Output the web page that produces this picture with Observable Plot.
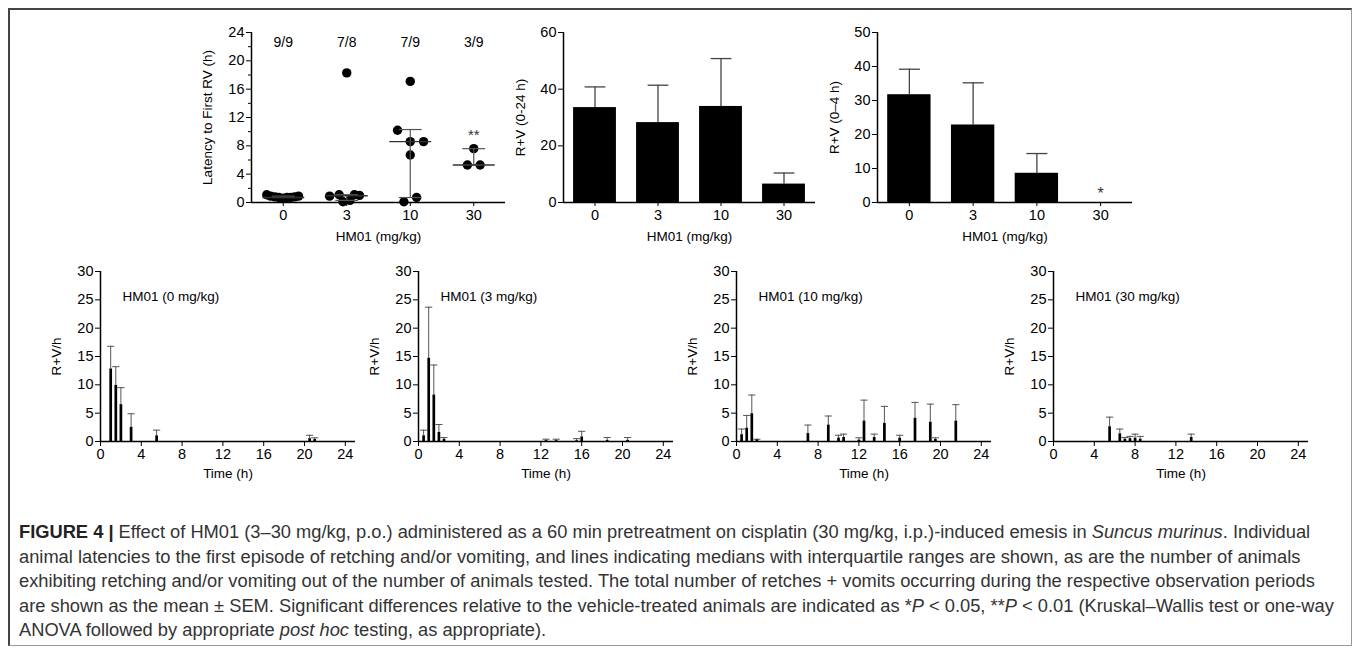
<!DOCTYPE html>
<html><head><meta charset="utf-8">
<script src="https://cdn.jsdelivr.net/npm/d3@7"></script>
<script src="https://cdn.jsdelivr.net/npm/@observablehq/plot@0.6"></script>
<style>
body{margin:0;background:#fff;width:1357px;height:652px;overflow:hidden;position:relative;font-family:"Liberation Sans",Arial,sans-serif;}
#frame{position:absolute;left:8px;top:8px;width:1344px;height:638px;border:1px solid #999;border-left:2px solid #444;border-top:2px solid #444;box-sizing:border-box;}
.panel{position:absolute;}
.panel g[aria-label$="tick label"], .panel g[aria-label$="tick label"] text{font-size:14.5px !important;font-family:"Liberation Sans",Arial,sans-serif !important;}
#caption{position:absolute;left:19px;top:520px;font-size:18.3px;line-height:24.5px;color:#333;white-space:nowrap;}
#caption b{color:#222;}
</style></head><body>
<div id="frame"></div>
<div id="charts"></div>
<div id="caption">
<div><b>FIGURE 4 |</b> Effect of HM01 (3–30 mg/kg, p.o.) administered as a 60 min pretreatment on cisplatin (30 mg/kg, i.p.)-induced emesis in <i>Suncus murinus</i>. Individual</div>
<div>animal latencies to the first episode of retching and/or vomiting, and lines indicating medians with interquartile ranges are shown, as are the number of animals</div>
<div>exhibiting retching and/or vomiting out of the number of animals tested. The total number of retches + vomits occurring during the respective observation periods</div>
<div>are shown as the mean ± SEM. Significant differences relative to the vehicle-treated animals are indicated as *<i>P</i> &lt; 0.05, **<i>P</i> &lt; 0.01 (Kruskal–Wallis test or one-way</div>
<div>ANOVA followed by appropriate <i>post hoc</i> testing, as appropriate).</div>
</div>
<script>
// ---------- DATA ----------
const doses = ["0", "3", "10", "30"];
const countLabels = ["9/9", "7/8", "7/9", "3/9"];

// Individual latencies (h); group index, horizontal scatter offset, value
const latGroup  = [0,0,0,0,0,0,0,0,0, 1,1,1,1,1,1,1, 2,2,2,2,2,2,2, 3,3,3];
const latJitter = [-0.26,-0.2,-0.13,-0.07,0,0.06,0.12,0.18,0.24, -0.27,-0.12,-0.06,0,0.05,0.12,0.2, -0.2,0,0,0.21,0,0.1,-0.1, 0,-0.1,0.1];
const latValue  = [1.1,0.9,0.8,0.7,0.6,0.7,0.7,0.8,0.9, 0.9,1.1,0.1,18.3,0.3,1.1,1.0, 10.2,17.1,8.6,8.6,6.7,0.7,0.1, 7.6,5.3,5.3];
const latMedian = [0.7, 0.95, 8.6, 5.3];
const latQ1     = [0.7, 0.3, 0.7, 5.3];
const latQ3     = [0.9, 1.1, 10.3, 7.6];
const latSig    = ["", "", "", "**"];

// Total R+V 0-24 h (mean, mean+SEM)
const rv24Mean = [33.5, 28.2, 33.9, 6.5];
const rv24Err  = [40.8, 41.4, 50.8, 10.4];
// Total R+V 0-4 h
const rv4Mean = [31.7, 22.8, 8.6, 0];
const rv4Err  = [39.2, 35.2, 14.4, 0];
const rv4Sig  = ["", "", "", "*"];

// Time course R+V per hour (time, mean, mean+SEM)
const tcLabels = ["HM01 (0 mg/kg)", "HM01 (3 mg/kg)", "HM01 (10 mg/kg)", "HM01 (30 mg/kg)"];
const t0 = [1, 1.5, 2, 3, 5.5, 20.5, 21];
const m0 = [12.8, 9.9, 6.5, 2.5, 1.0, 0.5, 0.35];
const e0 = [16.8, 13.2, 9.5, 4.9, 2.0, 1.1, 0.65];
const t3 = [0.5, 1, 1.5, 2, 2.5, 12.5, 13.5, 15.5, 16, 18.5, 20.5];
const m3 = [1.0, 14.7, 8.2, 1.6, 0.4, 0.15, 0.15, 0.15, 0.8, 0.2, 0.2];
const e3 = [2.0, 23.7, 13.5, 3.0, 0.7, 0.4, 0.4, 0.5, 1.8, 0.7, 0.7];
const t10 = [0.5, 1, 1.5, 2, 7, 9, 10, 10.5, 12, 12.5, 13.5, 14.5, 16, 17.5, 19, 19.5, 21.5];
const m10 = [1.2, 2.35, 4.9, 0.3, 1.4, 2.9, 0.6, 0.7, 0.25, 3.6, 0.7, 3.2, 0.6, 4.1, 3.4, 0.35, 3.6];
const e10 = [2.2, 4.6, 8.2, 0.4, 2.9, 4.5, 1.1, 1.3, 0.65, 7.3, 1.3, 6.2, 1.1, 6.9, 6.6, 0.65, 6.5];
const t30 = [5.5, 6.5, 7, 7.5, 8, 8.5, 13.5];
const m30 = [2.6, 1.35, 0.4, 0.5, 0.6, 0.4, 0.7];
const e30 = [4.3, 2.2, 0.7, 0.9, 1.3, 0.9, 1.3];

// ---------- HELPERS ----------
const FONT = '"Liberation Sans", Arial, Helvetica, sans-serif';
const baseStyle = {fontFamily: FONT, fontSize: "14px", color: "black", background: "transparent", overflow: "visible"};
const LABEL = 13.5;
const TICK = 14.5;
const charts = document.getElementById("charts");
function place(svg, left, top) {
  const d = document.createElement("div");
  d.className = "panel";
  d.style.left = left + "px";
  d.style.top = top + "px";
  d.appendChild(svg);
  charts.appendChild(d);
}
const idx = [0, 1, 2, 3];

// ---------- Panel A: latency scatter ----------
{
  const pts = latValue.map((v, k) => ({g: latGroup[k], j: latJitter[k], v}));
  const summ = idx.map(i => ({i, med: latMedian[i], q1: latQ1[i], q3: latQ3[i], n: countLabels[i], sig: latSig[i]}));
  const svg = Plot.plot({
    width: 370, height: 250, marginLeft: 101, marginRight: 15, marginTop: 22, marginBottom: 58,
    style: baseStyle,
    x: {domain: [-0.5, 3.5]},
    y: {domain: [0, 24]},
    marks: [
      Plot.axisY({ticks: [0, 4, 8, 12, 16, 20, 24], tickSize: 5, tickPadding: 2, label: null, fontSize: TICK}),
      Plot.axisY({ticks: [2, 6, 10, 14, 18, 22], tickSize: 3, tickFormat: () => "", label: null}),
      Plot.axisX({ticks: idx, tickFormat: i => doses[i], tickSize: 4, tickPadding: 3, label: null, fontSize: TICK}),
      Plot.dot(pts, {x: d => d.g + d.j, y: "v", r: 4.7, fill: "black", stroke: "none"}),
      Plot.ruleX(summ, {x: "i", y1: "q1", y2: "q3", stroke: "#555", strokeWidth: 1.2}),
      Plot.link(summ, {x1: d => d.i - 0.18, x2: d => d.i + 0.18, y1: "q1", y2: "q1", stroke: "#555", strokeWidth: 1.2}),
      Plot.link(summ, {x1: d => d.i - 0.18, x2: d => d.i + 0.18, y1: "q3", y2: "q3", stroke: "#555", strokeWidth: 1.2}),
      Plot.link(summ, {x1: d => d.i - 0.33, x2: d => d.i + 0.33, y1: "med", y2: "med", stroke: "#333", strokeWidth: 1.4}),
      Plot.text(summ, {x: "i", frameAnchor: "top", dy: 5, text: "n", fontSize: 14}),
      Plot.text(summ, {x: "i", y: "q3", dy: -13, text: "sig", fontSize: 15, fill: "#333"}),
      Plot.ruleY([0], {stroke: "black", strokeWidth: 1.5}),
      Plot.ruleX([-0.5], {stroke: "black", strokeWidth: 1.5}),
      Plot.text(["Latency to First RV (h)"], {text: d => d, frameAnchor: "left", textAnchor: "middle", rotate: -90, dx: -44, fontSize: LABEL}),
      Plot.text(["HM01 (mg/kg)"], {text: d => d, frameAnchor: "bottom", textAnchor: "middle", dy: 38, fontSize: LABEL})
    ]
  });
  place(svg, 150, 10);
}

// ---------- Bar panels ----------
function barPanel(means, errs, sigs, yMax, yTicks, yLabel, width, marginLeft) {
  const rows = idx.map(i => ({i, m: means[i], e: errs[i], sig: sigs ? sigs[i] : ""}));
  const shown = rows.filter(d => d.m > 0);
  return Plot.plot({
    width, height: 250, marginLeft, marginRight: 15, marginTop: 22, marginBottom: 58,
    style: baseStyle,
    x: {domain: [-0.5, 3.5]},
    y: {domain: [0, yMax]},
    marks: [
      Plot.axisY({ticks: yTicks, tickSize: 5, tickPadding: 2, label: null, fontSize: TICK}),
      Plot.axisX({ticks: idx, tickFormat: i => doses[i], tickSize: 4, tickPadding: 3, label: null, fontSize: TICK}),
      Plot.ruleX(shown, {x: "i", y1: "m", y2: "e", stroke: "#444", strokeWidth: 1.3}),
      Plot.link(shown, {x1: d => d.i - 0.165, x2: d => d.i + 0.165, y1: "e", y2: "e", stroke: "#444", strokeWidth: 1.3}),
      Plot.rectY(shown, {x1: d => d.i - 0.34, x2: d => d.i + 0.34, y1: () => 0, y2: "m", fill: "black"}),
      Plot.text(rows.filter(d => d.sig), {x: "i", y: "m", dy: -9, text: "sig", fontSize: 16, fill: "#333"}),
      Plot.ruleY([0], {stroke: "black", strokeWidth: 1.5}),
      Plot.ruleX([-0.5], {stroke: "black", strokeWidth: 1.5}),
      Plot.text([yLabel], {text: d => d, frameAnchor: "left", textAnchor: "middle", rotate: -90, dx: -43, fontSize: LABEL}),
      Plot.text(["HM01 (mg/kg)"], {text: d => d, frameAnchor: "bottom", textAnchor: "middle", dy: 38, fontSize: LABEL})
    ]
  });
}
place(barPanel(rv24Mean, rv24Err, null, 60, [0, 20, 40, 60], "R+V (0-24 h)", 360, 93), 470, 10);
place(barPanel(rv4Mean, rv4Err, rv4Sig, 50, [0, 10, 20, 30, 40, 50], "R+V (0–4 h)", 357, 87), 790, 10);

// ---------- Time course panels ----------
function timePanel(label, t, m, e) {
  const rows = t.map((x, k) => ({t: x, m: m[k], e: e[k]}));
  return Plot.plot({
    width: 330, height: 240, marginLeft: 60, marginRight: 15, marginTop: 20, marginBottom: 50,
    style: baseStyle,
    x: {domain: [0, 25]},
    y: {domain: [0, 30]},
    marks: [
      Plot.axisY({ticks: [0, 5, 10, 15, 20, 25, 30], tickSize: 5, tickPadding: 2, label: null, fontSize: TICK}),
      Plot.axisX({ticks: [0, 4, 8, 12, 16, 20, 24], tickSize: 5, tickPadding: 2, label: null, fontSize: TICK}),
      Plot.ruleX(rows, {x: "t", y1: "m", y2: "e", stroke: "#555", strokeWidth: 1}),
      Plot.link(rows, {x1: d => d.t - 0.35, x2: d => d.t + 0.35, y1: "e", y2: "e", stroke: "#555", strokeWidth: 1}),
      Plot.ruleX(rows, {x: "t", y1: () => 0, y2: "m", stroke: "black", strokeWidth: 2.7}),
      Plot.ruleY([0], {stroke: "black", strokeWidth: 1.5}),
      Plot.ruleX([0], {stroke: "black", strokeWidth: 1.5}),
      Plot.text([label], {text: d => d, frameAnchor: "top-left", textAnchor: "start", dx: 22, dy: 20, fontSize: LABEL}),
      Plot.text(["R+V/h"], {text: d => d, frameAnchor: "left", textAnchor: "middle", rotate: -90, dx: -44, fontSize: LABEL}),
      Plot.text(["Time (h)"], {text: d => d, frameAnchor: "bottom", textAnchor: "middle", dy: 36, fontSize: LABEL})
    ]
  });
}
const tcData = [[t0, m0, e0], [t3, m3, e3], [t10, m10, e10], [t30, m30, e30]];
const tcAxisX = [100, 418, 736, 1053];
tcData.forEach((d, k) => place(timePanel(tcLabels[k], d[0], d[1], d[2]), tcAxisX[k] - 60, 251));
</script>
</body></html>
